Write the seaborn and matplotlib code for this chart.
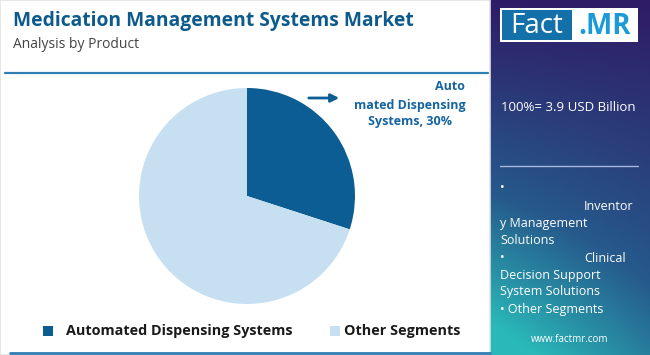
import numpy as np
import matplotlib.pyplot as plt
import seaborn as sns
from matplotlib.patches import Rectangle, FancyArrowPatch
from matplotlib.lines import Line2D

sns.set_theme(style="white")
plt.rcParams['font.family'] = ['Open Sans', 'DejaVu Sans']

### data
segments = ["Automated Dispensing Systems", "Other Segments"]
shares = [30, 70]
seg_colors = ["#0b5d93", "#c6e0f1"]
total_label = "100%= 3.9 USD Billion"
side_items = ["Inventor", "y Management", "Solutions", "Clinical",
              "Decision Support", "System Solutions", "\u2022 Other Segments"]

W, H = 650, 355
fig = plt.figure(figsize=(W / 100, H / 100), dpi=100)
fig.patch.set_facecolor("white")

def px(x, y):
    # pixel coords (top-left origin) -> figure fraction
    return x / W, 1 - y / H

### left panel frame + lines
fig.add_artist(Rectangle((0, 0), 490 / W, 1, transform=fig.transFigure,
                         facecolor="none", edgecolor="#e3e3e3", lw=1.2))
fig.add_artist(Line2D([5 / W, 488 / W], [1 - 73 / H] * 2, transform=fig.transFigure,
                      color="#2f7fb5", lw=1.6))
fig.add_artist(Line2D([10 / W, 490 / W], [1 - 353 / H] * 2, transform=fig.transFigure,
                      color="#2f7fb5", lw=2))

title_color = "#0d5a8c"
fig.text(*px(13, 21), "Medication Management Systems Market", fontsize=13.9,
         fontweight="bold", color=title_color, va="center", ha="left")
fig.text(*px(13, 45), "Analysis by Product", fontsize=10, color="#444444",
         va="center", ha="left")

### pie
ax = fig.add_axes([139 / W, (H - 304) / H, 216 / W, 216 / H])
ax.pie(shares, colors=seg_colors, startangle=90, counterclock=False,
       wedgeprops=dict(linewidth=0))
ax.set_xlim(-1, 1)
ax.set_ylim(-1, 1)
ax.set_aspect("equal")
ax.axis("off")

# arrow and label
fig.add_artist(FancyArrowPatch(
    px(306, 98), px(342, 98), transform=fig.transFigure, arrowstyle="-|>",
    mutation_scale=12, color=seg_colors[0], lw=2))
lab_color = "#1565a0"
fig.text(*px(465, 87), "Auto", fontsize=9, fontweight="bold", color=lab_color,
         ha="right", va="center")
fig.text(*px(410, 105), "mated Dispensing", fontsize=9, fontweight="bold",
         color=lab_color, ha="center", va="center")
fig.text(*px(410, 122), "Systems, " + str(shares[0]) + "%", fontsize=9,
         fontweight="bold", color=lab_color, ha="center", va="center")

# legend
leg_x = [(48, 66), (335, 344)]
for (mx, tx), name, c in zip(leg_x, segments, seg_colors):
    fig.add_artist(Rectangle(px(mx - 5, 336), 10 / W, 10 / H, transform=fig.transFigure,
                             facecolor=c, edgecolor="none"))
    fig.text(*px(tx, 331), name, fontsize=10.4, fontweight="bold", color="#1a1a1a",
             ha="left", va="center")

### right panel with gradient
rax = fig.add_axes([490 / W, 0, 160 / W, 1], zorder=-1)
ny, nx = 200, 80
yy, xx = np.mgrid[0:1:ny * 1j, 0:1:nx * 1j]
t = np.clip(0.75 * yy + 0.35 * (1 - xx) * yy, 0, 1)
top = np.array([0x2f, 0x1c, 0x66]) / 255
mid = np.array([0x26, 0x5a, 0x8c]) / 255
bot = np.array([0x2a, 0xb8, 0xb8]) / 255
t3 = t[..., None]
img = np.where(t3 < 0.6, top + (mid - top) * (t3 / 0.6),
               mid + (bot - mid) * ((t3 - 0.6) / 0.4))
rax.imshow(img, aspect="auto", extent=(0, 1, 0, 1), origin="upper")
rax.set_xlim(0, 1)
rax.set_ylim(0, 1)
rax.axis("off")

# logo
fig.add_artist(Rectangle(px(500, 42), 138 / W, 34 / H, transform=fig.transFigure,
                         facecolor="white", edgecolor="none"))
fig.add_artist(Rectangle(px(502, 40), 70 / W, 30 / H, transform=fig.transFigure,
                         facecolor="#1470a8", edgecolor="none"))
fig.text(*px(537, 26), "Fact", fontsize=20, color="white", ha="center", va="center")
fig.text(*px(605, 26), ".MR", fontsize=20, fontweight="bold", color="#1a9ad6",
         ha="center", va="center")

fig.text(*px(501, 107), total_label, fontsize=9.5, color="white", ha="left", va="center")
fig.add_artist(Line2D([500 / W, 638 / W], [1 - 166 / H] * 2, transform=fig.transFigure,
                      color="#a8b8d8", lw=1))

side_pos = [(584, 206, "left"), (500, 223, "left"), (500, 240, "left"),
            (584, 258, "left"), (500, 275, "left"), (500, 292, "left"),
            (500, 310, "left")]
fig.text(*px(500, 188), "\u2022", fontsize=9, color="white", ha="left", va="center")
fig.text(*px(500, 258), "\u2022", fontsize=9, color="white", ha="left", va="center")
for (x, y, ha), s in zip(side_pos, side_items):
    fig.text(*px(x, y), s, fontsize=9, color="white", ha=ha, va="center")

fig.text(*px(570, 340), "www.factmr.com", fontsize=7, color="white",
         ha="center", va="center")

plt.savefig("out.png", dpi=100)
